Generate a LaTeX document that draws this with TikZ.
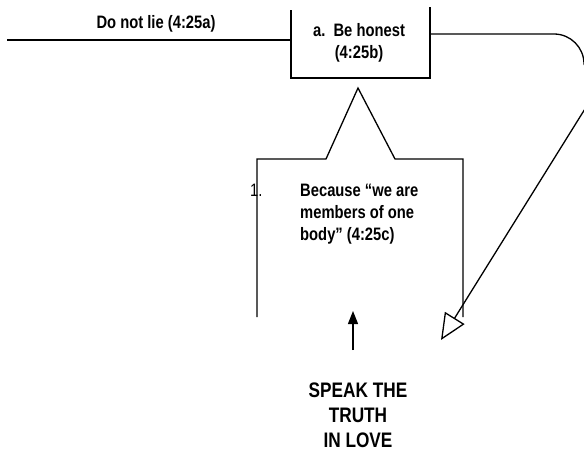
\documentclass[tikz,border=0pt]{standalone}
\usepackage{fontspec}
\setmainfont[FakeStretch=0.82]{Liberation Sans}
\usetikzlibrary{arrows.meta}
\tikzset{
  ln/.style={line width=1.3pt, line cap=butt, line join=miter},
  lbl/.style={inner sep=0pt, font=\fontsize{18}{22}\selectfont\bfseries, align=left},
  big/.style={inner sep=0pt, font=\fontsize{21}{25}\selectfont\bfseries, align=center}
}
\begin{document}
\begin{tikzpicture}[x=1pt,y=-1pt]
\useasboundingbox (0,0) rectangle (584,450);
\clip (0,0) rectangle (584,450);
% top line and box
\coordinate (L0) at (7,40);
\coordinate (L1) at (291,40);
\draw[ln] (L0) -- (L1);
\draw[ln] (291,10) -- (291,78) -- (430,78) -- (430,7);
\node[lbl, anchor=base] (dnl) at (156,28) {Do not lie (4:25a)};
\node[lbl, anchor=base, align=center] (beh) at (359,58) {a.\ \ Be honest\\(4:25b)};
% house shape
\draw[ln] (257,317) -- (257,159) -- (326,159) -- (358,88) -- (395,159) -- (463,159) -- (463,317);
\node[inner sep=0pt, font=\fontsize{18}{22}\selectfont, anchor=base west] (one) at (250,196) {1.};
\node[lbl, anchor=base west] (bec) at (300,240) {Because “we are\\members of one\\body” (4:25c)};
% long curved arrow
\coordinate (C0) at (430,34);
\coordinate (C1) at (554,34);
\coordinate (T) at (441,340);
\draw[ln, -{Triangle[open, length=26pt, width=23pt, line width=1.3pt]}] (C0) -- (C1) arc[start angle=-90, end angle=0, radius=30] -- (598,88) -- (T);
% up arrow
\node[big, anchor=base] (spk) at (358,447) {SPEAK THE\\TRUTH\\IN LOVE};
\coordinate (A0) at (353,350);
\coordinate (A1) at (353,311);
\draw[ln, -{Triangle[length=13pt, width=10pt]}] (A0) -- (A1);
\end{tikzpicture}
\end{document}
